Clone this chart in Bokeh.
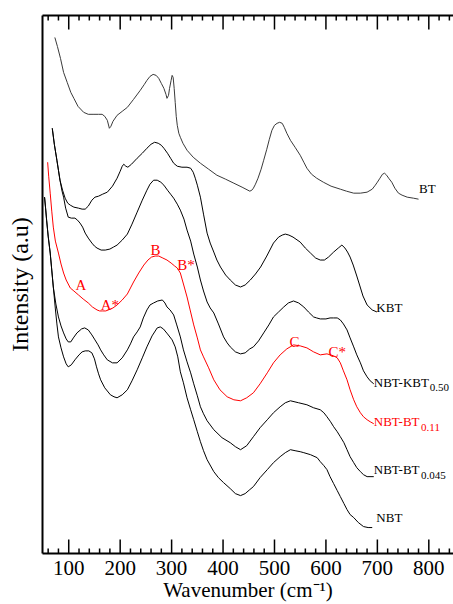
from bokeh.plotting import figure
from bokeh.models import Range1d, LinearAxis, SingleIntervalTicker, FixedTicker, Label, ColumnDataSource
from bokeh.embed import file_html
from bokeh.resources import INLINE

# Raman spectra: wavenumber (cm^-1) and intensity (a.u., stacked with offsets)
bt_x = [73, 78, 84, 90, 97, 104, 110, 118, 129, 138, 149, 158, 165, 170, 175, 179, 182, 186, 194, 204,
        214, 226, 239, 247, 252, 258, 264, 270, 275, 280, 285, 289, 291, 294, 296, 299, 301, 303, 305, 307,
        309, 311, 314, 317, 322, 330, 342, 356, 372, 388, 405, 421, 437, 452, 456, 459, 463, 468, 474, 479,
        485, 490, 495, 500, 505, 510, 515, 519, 524, 531, 540, 550, 557, 563, 572, 582, 595, 610, 628, 640,
        654, 667, 680, 690, 696, 700, 705, 710, 714, 718, 722, 728, 734, 741, 748, 758, 770, 780]
bt_y = [517, 508, 496, 482, 472, 462, 456, 448, 442, 440, 440, 440, 440, 438, 434, 426, 428, 433, 439, 443,
        447, 455, 464, 470, 474, 478, 480, 479, 476, 471, 466, 460, 456, 459, 466, 474, 479, 477, 466, 452,
        438, 429, 421, 417, 411, 404, 397, 391, 385, 379, 375, 371, 367, 363, 364, 366, 370, 376, 385, 394,
        405, 415, 424, 429, 431, 432, 431, 427, 421, 414, 407, 399, 392, 386, 380, 376, 372, 368, 365, 363,
        361, 361, 362, 365, 369, 372, 376, 380, 381, 379, 376, 372, 366, 361, 359, 357, 356, 355]

kbt_x = [68, 72, 77, 80, 83, 88, 93, 98, 103, 110, 119, 126, 132, 138, 145, 151, 158, 166, 175, 185,
         194, 200, 204, 207, 211, 215, 222, 233, 243, 252, 260, 267, 274, 280, 285, 292, 298, 304, 311, 320,
         330, 337, 342, 346, 350, 356, 362, 369, 375, 382, 388, 395, 405, 414, 424, 434, 443, 453, 463, 473,
         485, 498, 508, 515, 521, 528, 536, 550, 560, 570, 580, 589, 597, 605, 615, 624, 631, 637, 642, 647,
         653, 660, 666, 672, 680, 690, 699]
kbt_y = [426, 410, 394, 384, 374, 364, 356, 351, 349, 347, 346, 345, 345, 348, 354, 357, 358, 360, 362, 368,
         376, 383, 388, 390, 388, 387, 390, 396, 401, 406, 410, 412, 411, 409, 406, 401, 396, 391, 388, 387,
         387, 386, 382, 376, 369, 357, 340, 321, 311, 302, 294, 287, 279, 274, 269, 267, 269, 274, 280, 287,
         298, 311, 317, 319, 320, 319, 317, 312, 306, 301, 296, 294, 294, 297, 302, 306, 309, 306, 302, 297,
         289, 278, 268, 258, 249, 244, 242]

nbt_kbt050_x = [68, 72, 77, 80, 83, 87, 90, 94, 99, 105, 112, 117, 122, 127, 132, 138, 145, 150, 155, 163,
                171, 180, 187, 194, 204, 214, 223, 233, 243, 252, 258, 265, 272, 279, 285, 292, 298, 304, 311, 317,
                324, 330, 337, 343, 350, 356, 362, 369, 375, 382, 391, 401, 408, 414, 424, 434, 443, 452, 459, 469,
                479, 489, 498, 508, 518, 527, 537, 547, 557, 566, 576, 582, 589, 600, 608, 615, 622, 628, 634, 641,
                647, 654, 660, 667, 673, 680, 686, 693]
nbt_kbt050_y = [426, 410, 394, 384, 374, 363, 357, 346, 337, 336, 336, 334, 331, 327, 321, 316, 311, 308, 306, 304,
                304, 305, 307, 309, 314, 320, 330, 342, 354, 364, 370, 374, 374, 372, 369, 364, 360, 356, 350, 344,
                335, 324, 313, 300, 287, 274, 263, 252, 246, 241, 230, 217, 211, 207, 202, 200, 201, 205, 207, 213,
                221, 229, 237, 242, 247, 251, 253, 251, 247, 242, 237, 236, 235, 235, 236, 236, 236, 234, 230, 224,
                216, 207, 199, 191, 183, 177, 173, 170]

nbt_bt011_x = [59, 61, 64, 67, 70, 74, 80, 85, 90, 95, 103, 110, 119, 128, 138, 146, 155, 160, 166, 172,
               177, 186, 194, 204, 214, 220, 226, 236, 246, 254, 261, 268, 275, 283, 291, 299, 306, 311, 317, 323,
               330, 336, 343, 350, 356, 362, 372, 382, 394, 408, 421, 434, 446, 459, 472, 486, 498, 511, 524, 537,
               550, 563, 576, 589, 602, 615, 622, 628, 634, 641, 647, 654, 660, 667, 673, 680, 686, 693]
nbt_bt011_y = [392, 378, 361, 343, 327, 313, 301, 290, 281, 274, 266, 263, 259, 255, 251, 247, 244, 243, 243, 243,
               244, 246, 249, 254, 260, 266, 272, 281, 289, 294, 297, 298, 298, 296, 294, 291, 288, 286, 281, 270,
               257, 244, 229, 216, 204, 197, 186, 174, 164, 157, 154, 153, 156, 161, 170, 181, 191, 199, 205, 209,
               208, 206, 202, 199, 200, 198, 196, 191, 183, 174, 164, 154, 147, 141, 137, 134, 132, 130]

nbt_bt0045_x = [53, 55, 57, 60, 64, 67, 70, 75, 80, 85, 90, 95, 99, 104, 109, 116, 125, 131, 138, 145,
                151, 157, 162, 168, 175, 185, 194, 204, 214, 220, 226, 233, 239, 245, 252, 258, 265, 273, 282, 287,
                291, 297, 304, 310, 317, 323, 330, 337, 343, 350, 356, 362, 369, 382, 398, 414, 424, 434, 446, 459,
                472, 486, 498, 511, 521, 531, 547, 563, 576, 589, 596, 602, 609, 615, 622, 628, 635, 641, 647, 654,
                660, 667, 673, 680, 693]
nbt_bt0045_y = [357, 346, 334, 318, 301, 284, 267, 250, 237, 228, 221, 215, 212, 212, 216, 221, 225, 226, 224, 219,
                214, 209, 204, 199, 194, 191, 191, 196, 204, 210, 217, 222, 227, 236, 244, 249, 251, 253, 254, 251,
                247, 244, 239, 229, 217, 204, 192, 181, 170, 158, 147, 140, 133, 124, 116, 111, 107, 104, 108, 117,
                126, 134, 141, 147, 151, 153, 151, 149, 146, 144, 141, 137, 132, 127, 122, 117, 111, 104, 97, 91,
                86, 82, 79, 77, 77]

nbt_x = [53, 55, 57, 60, 64, 67, 70, 74, 77, 80, 85, 90, 95, 99, 105, 112, 120, 126, 132, 139,
         145, 150, 154, 158, 162, 170, 181, 188, 194, 204, 214, 223, 233, 243, 252, 262, 272, 278, 284, 292,
         301, 307, 312, 317, 323, 330, 337, 343, 350, 356, 362, 369, 382, 391, 401, 414, 424, 434, 443, 452,
         459, 472, 486, 498, 511, 521, 531, 540, 550, 557, 570, 583, 589, 596, 602, 608, 615, 622, 628, 635,
         641, 647, 654, 663, 673, 682, 690]
nbt_y = [357, 346, 334, 318, 301, 284, 267, 245, 230, 217, 206, 197, 190, 187, 189, 194, 199, 202, 203, 203,
         201, 195, 187, 180, 174, 166, 159, 157, 156, 159, 164, 173, 184, 196, 207, 218, 226, 227, 225, 220,
         214, 207, 197, 182, 171, 156, 144, 134, 122, 112, 103, 94, 82, 76, 71, 65, 60, 58, 60, 64,
         67, 76, 84, 91, 97, 101, 104, 103, 102, 101, 99, 96, 92, 88, 84, 77, 70, 63, 57, 50,
         44, 39, 36, 31, 27, 26, 26]

# sample names and their composition subscripts
sample_names = ["BT", "KBT", "NBT-KBT", "NBT-BT", "NBT-BT", "NBT"]
sample_subs = ["", "", "0.50", "0.11", "0.045", ""]

# Raman mode markers on the NBT-BT0.11 spectrum
mode_names = ["A", "A*", "B", "B*", "C", "C*"]

# axis tick positions (cm^-1)
major_ticks = [100, 200, 300, 400, 500, 600, 700, 800]
minor_ticks = [v for v in range(60, 849, 20) if v % 100 != 0]

FONT = "Liberation Serif"
RED = "#ff0000"

spectra = [
    (bt_x, bt_y, "#3a3a3a"),
    (kbt_x, kbt_y, "black"),
    (nbt_kbt050_x, nbt_kbt050_y, "black"),
    (nbt_bt011_x, nbt_bt011_y, RED),
    (nbt_bt0045_x, nbt_bt0045_y, "black"),
    (nbt_x, nbt_y, "black"),
]

Y_TOP = 539

p = figure(width=453, height=604, x_range=Range1d(49, 848), y_range=Range1d(0, Y_TOP),
           x_axis_type=None, y_axis_type=None, output_backend="svg", toolbar_location=None,
           min_border_left=42, min_border_right=0, min_border_top=15, min_border_bottom=50)
p.outline_line_color = None
p.background_fill_color = "white"
p.border_fill_color = "white"

# bottom axis with numbers and title
xax = LinearAxis(ticker=SingleIntervalTicker(interval=100))
xax.axis_line_width = 2
xax.axis_line_color = "black"
xax.major_tick_line_color = None
xax.minor_tick_line_color = None
xax.major_label_text_font = FONT
xax.major_label_text_font_size = "21px"
xax.major_label_text_color = "black"
xax.major_label_standoff = 1
xax.axis_label = "Wavenumber (cm\u207b\u00b9)"
xax.axis_label_text_font = FONT
xax.axis_label_text_font_size = "21px"
xax.axis_label_text_font_style = "normal"
xax.axis_label_text_color = "black"
xax.axis_label_standoff = 0
p.add_layout(xax, "below")

# top axis: plain line
tax = LinearAxis(ticker=FixedTicker(ticks=[]))
tax.axis_line_width = 2
tax.axis_line_color = "black"
tax.major_tick_line_color = None
tax.minor_tick_line_color = None
p.add_layout(tax, "above")

# left axis: line and title only
yax = LinearAxis(ticker=FixedTicker(ticks=[]))
yax.axis_line_width = 2
yax.axis_line_color = "black"
yax.major_tick_line_color = None
yax.minor_tick_line_color = None
yax.axis_label = "Intensity (a.u)"
yax.axis_label_text_font = FONT
yax.axis_label_text_font_size = "24px"
yax.axis_label_text_font_style = "normal"
yax.axis_label_text_color = "black"
yax.axis_label_standoff = 10
p.add_layout(yax, "left")

# inward tick marks along the top and bottom edges
tick_x, tick_y0, tick_y1 = [], [], []
for ticks, length in ((major_ticks, 14), (minor_ticks, 5)):
    for t in ticks:
        tick_x += [t, t]
        tick_y0 += [-1, Y_TOP + 1]
        tick_y1 += [length, Y_TOP - length]
tick_src = ColumnDataSource(dict(x=tick_x, y0=tick_y0, y1=tick_y1))
p.segment(x0="x", y0="y0", x1="x", y1="y1", source=tick_src, line_color="black", line_width=1.5)

for xs, ys, col in spectra:
    p.line(xs, ys, line_color=col, line_width=1)

# sample names at the right end of each spectrum
name_pos = [(781, 366), (698, 246), (693, 171), (693, 132), (693, 84), (698, 36)]
sub_pos = [None, None, (802, 166), (785, 126), (785, 78), None]
name_colors = ["black", "black", "black", RED, "black", "black"]
for name, sub, pos, spos, col in zip(sample_names, sample_subs, name_pos, sub_pos, name_colors):
    p.add_layout(Label(x=pos[0], y=pos[1], text=name, text_font=FONT, text_font_size="13px",
                       text_color=col, text_baseline="alphabetic", text_align="left"))
    if sub:
        p.add_layout(Label(x=spos[0], y=spos[1], text=sub, text_font=FONT, text_font_size="11px",
                           text_color=col, text_baseline="alphabetic", text_align="left"))

mode_pos = [(113, 269), (162, 249), (259, 304), (311, 289), (529, 212), (605, 202)]
for name, pos in zip(mode_names, mode_pos):
    p.add_layout(Label(x=pos[0], y=pos[1], text=name, text_font=FONT, text_font_size="15px",
                       text_color=RED, text_baseline="alphabetic", text_align="left"))

open("out.html", "w").write(file_html(p, INLINE))
